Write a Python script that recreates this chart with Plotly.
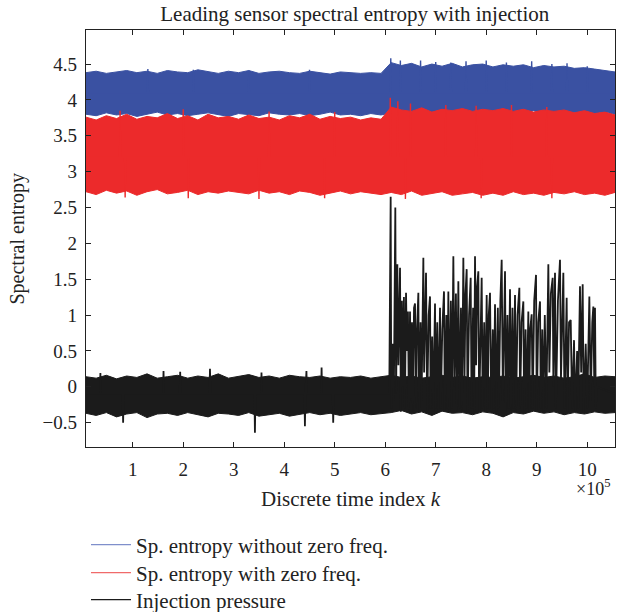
import numpy as np
import plotly.graph_objects as go

# ---------------- data ----------------
# envelope sample positions, in units of 1e5 (discrete time index k)
k_env_e5 = np.linspace(0.075, 10.55, 53)

blue_upper = [4.38, 4.40, 4.37, 4.39, 4.41, 4.38, 4.40, 4.37, 4.41, 4.39,
              4.38, 4.42, 4.39, 4.37, 4.40, 4.38, 4.41, 4.37, 4.39, 4.40,
              4.38, 4.37, 4.40, 4.38, 4.36, 4.39, 4.38, 4.37, 4.38, 4.37,
              4.52, 4.48, 4.51, 4.46, 4.50, 4.47, 4.51, 4.46, 4.49, 4.50,
              4.46, 4.49, 4.47, 4.49, 4.45, 4.48, 4.46, 4.47, 4.44, 4.45,
              4.43, 4.41, 4.39]
blue_lower = [3.80, 3.78, 3.82, 3.79, 3.81, 3.77, 3.80, 3.83, 3.79, 3.81,
              3.78, 3.80, 3.82, 3.79, 3.77, 3.81, 3.80, 3.78, 3.82, 3.80,
              3.79, 3.81, 3.78, 3.80, 3.83, 3.79, 3.80, 3.78, 3.81, 3.79,
              3.82, 3.80, 3.84, 3.81, 3.83, 3.80, 3.85, 3.82, 3.80, 3.83,
              3.81, 3.84, 3.80, 3.82, 3.85, 3.81, 3.83, 3.80, 3.82, 3.84,
              3.81, 3.83, 3.80]
red_upper = [3.76, 3.72, 3.78, 3.74, 3.80, 3.73, 3.77, 3.75, 3.81, 3.74,
             3.78, 3.72, 3.80, 3.75, 3.77, 3.73, 3.79, 3.74, 3.76, 3.72,
             3.78, 3.75, 3.80, 3.73, 3.77, 3.74, 3.76, 3.72, 3.75, 3.73,
             3.90, 3.86, 3.84, 3.89, 3.83, 3.87, 3.85, 3.88, 3.84, 3.87,
             3.85, 3.88, 3.84, 3.87, 3.83, 3.86, 3.84, 3.86, 3.82, 3.85,
             3.81, 3.83, 3.79]
red_lower = [2.72, 2.68, 2.74, 2.70, 2.73, 2.67, 2.72, 2.75, 2.69, 2.71,
             2.74, 2.68, 2.72, 2.70, 2.73, 2.71, 2.69, 2.74, 2.70, 2.72,
             2.68, 2.73, 2.71, 2.67, 2.70, 2.73, 2.69, 2.72, 2.70, 2.68,
             2.71, 2.68, 2.73, 2.67, 2.70, 2.72, 2.67, 2.69, 2.71, 2.67,
             2.70, 2.67, 2.72, 2.68, 2.70, 2.67, 2.71, 2.69, 2.72, 2.68,
             2.70, 2.67, 2.71]
black_upper = [0.14, 0.12, 0.16, 0.11, 0.15, 0.13, 0.18, 0.12, 0.14, 0.16,
               0.12, 0.15, 0.13, 0.18, 0.12, 0.14, 0.17, 0.13, 0.15, 0.12,
               0.16, 0.14, 0.13, 0.15, 0.12, 0.14, 0.13, 0.15, 0.12, 0.14,
               0.16, 0.13, 0.15, 0.12, 0.14, 0.16, 0.13, 0.15, 0.12, 0.14,
               0.13, 0.15, 0.12, 0.14, 0.16, 0.13, 0.15, 0.12, 0.14, 0.18,
               0.13, 0.15, 0.14]
black_lower = [-0.37, -0.40, -0.36, -0.42, -0.38, -0.36, -0.43, -0.38, -0.37, -0.40,
               -0.36, -0.39, -0.42, -0.37, -0.38, -0.40, -0.36, -0.41, -0.39, -0.37,
               -0.41, -0.38, -0.36, -0.39, -0.37, -0.40, -0.38, -0.36, -0.39, -0.37,
               -0.36, -0.33, -0.38, -0.35, -0.40, -0.34, -0.37, -0.36, -0.39, -0.35,
               -0.37, -0.42, -0.36, -0.38, -0.34, -0.37, -0.35, -0.39, -0.36, -0.38,
               -0.35, -0.37, -0.36]

# narrow excursions beyond the bands (k in units of 1e5, value)
blue_spk_k_e5 = [0.075, 1.29, 1.30, 1.31, 2.19, 2.20, 2.21, 3.29, 3.30, 3.31,
                 4.49, 4.50, 4.51, 6.10, 6.11, 6.12, 6.29, 6.30, 6.31, 6.69,
                 6.70, 6.71, 6.99, 7.00, 7.01, 7.29, 7.30, 7.31, 7.59, 7.60,
                 7.61, 7.99, 8.00, 8.01, 8.39, 8.40, 8.41, 8.89, 8.90, 8.91,
                 9.29, 9.30, 9.31, 9.59, 9.60, 9.61, 9.99, 10.00, 10.01, 10.55]
blue_spk_val = [4.10, 4.10, 4.43, 4.10, 4.10, 4.42, 4.10, 4.10, 4.41, 4.10,
                4.10, 4.42, 4.10, 4.10, 4.58, 4.10, 4.10, 4.55, 4.10, 4.10,
                4.55, 4.10, 4.10, 4.53, 4.10, 4.10, 4.52, 4.10, 4.10, 4.54,
                4.10, 4.10, 4.55, 4.10, 4.10, 4.52, 4.10, 4.10, 4.54, 4.10,
                4.10, 4.50, 4.10, 4.10, 4.51, 4.10, 4.10, 4.47, 4.10, 4.10]
red_spk_k_e5 = [0.075, 0.74, 0.75, 0.76, 0.84, 0.85, 0.86, 1.99, 2.00, 2.01,
                2.09, 2.10, 2.11, 3.49, 3.50, 3.51, 3.69, 3.70, 3.71, 4.79,
                4.80, 4.81, 4.99, 5.00, 5.01, 6.09, 6.10, 6.11, 6.24, 6.25,
                6.26, 6.39, 6.40, 6.41, 6.49, 6.50, 6.51, 7.19, 7.20, 7.21,
                7.79, 7.80, 7.81, 7.89, 7.90, 7.91, 8.49, 8.50, 8.51, 9.19,
                9.20, 9.21, 9.29, 9.30, 9.31, 10.55]
red_spk_val = [3.20, 3.20, 3.85, 3.20, 3.20, 2.64, 3.20, 3.20, 3.87, 3.20,
               3.20, 2.63, 3.20, 3.20, 2.62, 3.20, 3.20, 3.84, 3.20, 3.20,
               2.63, 3.20, 3.20, 3.83, 3.20, 3.20, 4.03, 3.20, 3.20, 3.98,
               3.20, 3.20, 2.62, 3.20, 3.20, 3.95, 3.20, 3.20, 3.93, 3.20,
               3.20, 3.92, 3.20, 3.20, 2.63, 3.20, 3.20, 3.93, 3.20, 3.20,
               3.90, 3.20, 3.20, 2.63, 3.20, 3.20]

# injection pressure individual excursions (k in units of 1e5, value)
press_k_e5 = [0.075, 0.35, 0.36, 0.37, 0.80, 0.81, 0.82, 1.60, 1.61, 1.62,
              1.93, 1.94, 1.95, 2.52, 2.53, 2.54, 3.41, 3.42, 3.43, 3.54,
              3.55, 3.56, 4.40, 4.41, 4.42, 4.44, 4.45, 4.73, 4.74, 4.75,
              4.96, 4.97, 4.98, 6.08,
              6.108, 6.12, 6.15, 6.17, 6.200, 6.215, 6.240, 6.26, 6.293, 6.31,
              6.33, 6.35, 6.37, 6.39, 6.412, 6.43, 6.45, 6.47, 6.491, 6.51,
              6.53, 6.55, 6.57, 6.590, 6.61, 6.63, 6.656, 6.67, 6.70, 6.72,
              6.755, 6.77, 6.808, 6.83, 6.86, 6.887, 6.90, 6.93, 6.95, 6.986,
              7.00, 7.03, 7.05, 7.085, 7.10, 7.13, 7.164, 7.18, 7.21, 7.23,
              7.250, 7.27, 7.30, 7.32, 7.349, 7.37, 7.40, 7.42, 7.448, 7.47,
              7.50, 7.52, 7.547, 7.57, 7.59, 7.613, 7.63, 7.66, 7.692, 7.71,
              7.74, 7.76, 7.778, 7.80, 7.82, 7.844, 7.86, 7.890, 7.910, 7.93,
              7.96, 7.98, 8.009, 8.03, 8.05, 8.075, 8.10, 8.13, 8.15, 8.174,
              8.20, 8.23, 8.25, 8.28, 8.306, 8.33, 8.372, 8.39, 8.42, 8.44,
              8.471, 8.49, 8.52, 8.54, 8.570, 8.59, 8.62, 8.656, 8.67, 8.70,
              8.735, 8.75, 8.78, 8.80, 8.834, 8.85, 8.870, 8.900, 8.92, 8.95,
              8.986, 9.00, 9.03, 9.065, 9.08, 9.11, 9.13, 9.16, 9.19, 9.230,
              9.25, 9.28, 9.316, 9.33, 9.362, 9.38, 9.42, 9.461, 9.48, 9.527,
              9.55, 9.593, 9.61, 9.64, 9.673, 9.70, 9.739, 9.76, 9.80, 9.82,
              9.857, 9.88, 9.910, 9.93, 9.97, 10.00, 10.042, 10.07, 10.10, 10.121,
              10.14, 10.154, 10.17, 10.19, 10.55]
press_val = [-0.10, -0.10, 0.19, -0.10, -0.10, -0.50, -0.10, -0.10, 0.22, -0.10,
             -0.10, 0.21, -0.10, -0.10, 0.25, -0.10, -0.10, -0.64, -0.10, -0.10,
             0.20, -0.10, -0.10, -0.55, -0.10, 0.22, -0.10, -0.10, 0.27, -0.10,
             -0.10, -0.50, -0.10, -0.10,
             2.65, -0.30, 0.60, -0.20, 2.50, -0.10, 1.71, 0.30, 1.66, -0.35,
             1.20, 0.00, 1.25, -0.30, 1.31, 0.50, 1.05, -0.35, 1.05, -0.20,
             0.90, -0.35, 1.10, 1.16, -0.30, 0.80, 1.31, -0.35, 0.90, -0.20,
             1.80, 0.20, 1.59, -0.35, 1.00, 1.26, -0.30, 0.70, -0.35, 1.16,
             -0.30, 0.90, -0.35, 1.10, -0.30, 0.80, 1.33, -0.35, 1.00, -0.30,
             1.33, -0.35, 1.20, -0.30, 1.82, 0.00, 1.30, -0.35, 1.47, -0.30,
             1.10, -0.35, 1.80, 0.10, 1.30, 1.64, -0.35, 1.00, 1.52, -0.30,
             1.10, -0.35, 1.82, 0.30, 1.40, 1.61, -0.35, 1.20, 1.52, -0.30,
             0.90, -0.35, 1.28, -0.30, 1.00, 1.31, -0.35, 0.80, -0.30, 1.15,
             -0.35, 1.10, -0.30, 1.20, 1.77, -0.20, 1.61, -0.35, 1.00, -0.30,
             1.36, -0.35, 1.10, -0.30, 1.28, -0.35, 1.00, 1.38, -0.30, 0.90,
             1.19, -0.35, 0.80, -0.30, 1.05, -0.35, 0.80, 1.01, -0.30, 1.20,
             1.56, -0.35, 0.90, 1.19, -0.30, 0.80, -0.35, 1.00, -0.30, 1.71,
             0.20, 1.30, 1.52, 0.00, 1.59, -0.30, 1.20, 1.77, 0.10, 1.59,
             -0.30, 1.24, -0.35, 0.90, 0.93, -0.30, 0.65, -0.35, 0.50, -0.30,
             1.40, 0.20, 1.43, -0.35, 0.60, -0.30, 1.26, -0.20, 0.90, 1.12,
             0.00, 1.10, -0.30, 0.00, -0.10]

series_names = ["Sp. entropy without zero freq.",
                "Sp. entropy with zero freq.",
                "Injection pressure"]
x_tick_vals_e5 = [1, 2, 3, 4, 5, 6, 7, 8, 9, 10]
y_tick_vals = [-0.5, 0, 0.5, 1, 1.5, 2, 2.5, 3, 3.5, 4, 4.5]

# ---------------- styling ----------------
BLUE = "#3a51a2"
RED = "#ec2a2b"
BLACK = "#1b1b1b"
FONT = "Liberation Serif"
AX = "#222222"

k_env = k_env_e5 * 1e5
poly_x = np.concatenate([k_env, k_env[::-1]])

fig = go.Figure()


def band(upper, lower, color):
    fig.add_trace(go.Scatter(
        x=poly_x, y=np.concatenate([np.array(upper), np.array(lower)[::-1]]),
        fill="toself", fillcolor=color, mode="lines",
        line=dict(color=color, width=1), showlegend=False, hoverinfo="skip"))


def spikes(k_e5, vals, color, width):
    fig.add_trace(go.Scatter(x=np.array(k_e5) * 1e5, y=vals, mode="lines",
                             line=dict(color=color, width=width),
                             showlegend=False, hoverinfo="skip"))


band(blue_upper, blue_lower, BLUE)
spikes(blue_spk_k_e5, blue_spk_val, BLUE, 1.4)
band(red_upper, red_lower, RED)
spikes(red_spk_k_e5, red_spk_val, RED, 1.4)
band(black_upper, black_lower, BLACK)
spikes(press_k_e5, press_val, BLACK, 1.8)

# legend entries (three stacked legends for exact row placement)
legend_colors = ["#7f8fcb", "#f06a6a", BLACK]
legend_ids = ["legend", "legend2", "legend3"]
legend_y = [1 - 545 / 612, 1 - 573 / 612, 1 - 600 / 612]
for name, col, lid in zip(series_names, legend_colors, legend_ids):
    fig.add_trace(go.Scatter(x=[None], y=[None], mode="lines", name=name,
                             line=dict(color=col, width=1.2), legend=lid))

leg_common = dict(x=86 / 617, xref="container", yref="container",
                  xanchor="left", yanchor="middle", itemwidth=40,
                  font=dict(family=FONT, size=21, color=AX),
                  bgcolor="rgba(0,0,0,0)", borderwidth=0)

fig.update_layout(
    width=617, height=612,
    margin=dict(l=86, r=2, t=30, b=165, autoexpand=False),
    paper_bgcolor="white", plot_bgcolor="white",
    title=dict(text="Leading sensor spectral entropy with injection",
               x=0.575, xanchor="center", y=0.977, yanchor="middle",
               font=dict(family=FONT, size=21, color=AX)),
    legend=dict(y=legend_y[0], **leg_common),
    legend2=dict(y=legend_y[1], **leg_common),
    legend3=dict(y=legend_y[2], **leg_common),
    xaxis=dict(range=[0.075e5, 10.55e5],
               tickvals=[v * 1e5 for v in x_tick_vals_e5],
               ticktext=[str(v) for v in x_tick_vals_e5],
               ticks="inside", ticklen=5, tickwidth=1, tickcolor=AX,
               ticklabelstandoff=5,
               showline=True, linecolor=AX, linewidth=1.4, mirror="ticks",
               showgrid=False, zeroline=False,
               tickfont=dict(family=FONT, size=19, color=AX),
               title=dict(text="Discrete time index <i>k</i>",
                          font=dict(family=FONT, size=21, color=AX), standoff=12)),
    yaxis=dict(range=[-0.84, 4.975], tickvals=y_tick_vals,
               ticktext=[("\u22120.5" if v == -0.5 else f"{v:g}") for v in y_tick_vals],
               ticks="inside", ticklen=5, tickwidth=1, tickcolor=AX,
               ticklabelstandoff=4,
               showline=True, linecolor=AX, linewidth=1.4, mirror="ticks",
               showgrid=False, zeroline=False,
               tickfont=dict(family=FONT, size=19, color=AX)),
    annotations=[
        dict(text="Spectral entropy", xref="paper", yref="paper",
             x=-0.1304, y=0.5, xanchor="center", yanchor="middle", textangle=-90,
             showarrow=False, font=dict(family=FONT, size=20, color=AX)),
        dict(text="\u00d710<sup>5</sup>", xref="paper", yref="paper",
             x=0.9943, y=-0.098, xanchor="right", yanchor="middle",
             showarrow=False, font=dict(family=FONT, size=18, color=AX)),
    ],
)

fig.write_html("out.html")
